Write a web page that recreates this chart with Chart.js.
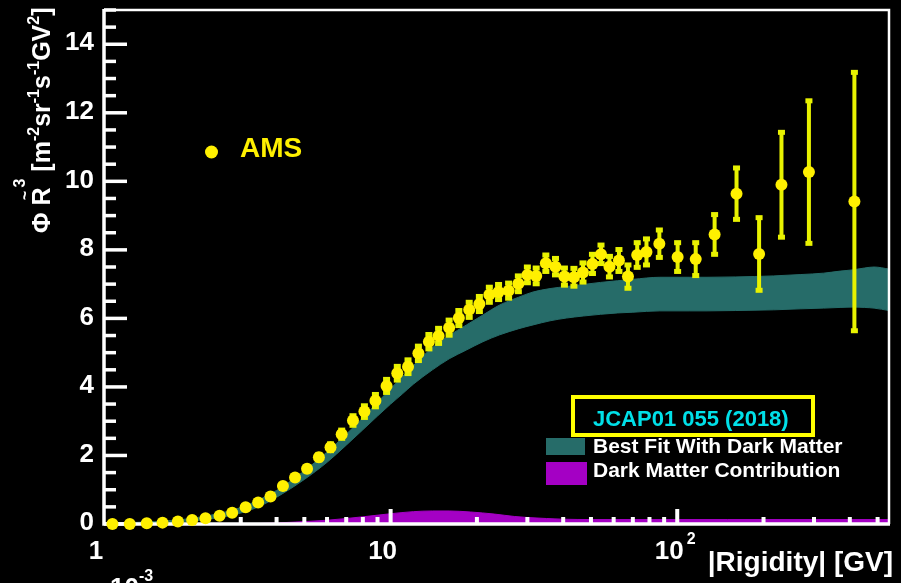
<!DOCTYPE html>
<html>
<head>
<meta charset="utf-8">
<script src="https://cdn.jsdelivr.net/npm/chart.js@4.4.1/dist/chart.umd.min.js"></script>
<style>
  html, body { margin: 0; padding: 0; background: #000; }
  #c { display: block; }
</style>
</head>
<body>
<canvas id="c" width="901" height="583"></canvas>
<script>
// AMS points: rigidity [GV], flux x R^3, error
const amsRigidity = [1.07, 1.23, 1.41, 1.6, 1.81, 2.03, 2.26, 2.53, 2.8, 3.12, 3.45, 3.81, 4.21, 4.64, 5.11, 5.62, 6.17, 6.75,
  7.39, 8.1, 8.85, 9.68, 10.55, 11.5, 12.5, 13.6, 14.7, 16.0, 17.3, 18.8, 20.4, 22.1, 23.8, 25.8, 27.9, 30.0,
  32.2, 34.8, 37.6, 40.4, 43.6, 46.9, 50.6, 54.2, 58.0, 62.6, 67.3, 72.5, 78.1, 86.6, 100.3, 116, 135, 161,
  193, 231, 288, 415];
const amsFlux = [0.00, 0.00, 0.02, 0.04, 0.07, 0.12, 0.17, 0.24, 0.33, 0.49, 0.63, 0.80, 1.11, 1.36, 1.61, 1.95, 2.24, 2.62,
  3.02, 3.28, 3.60, 4.03, 4.40, 4.59, 4.98, 5.32, 5.49, 5.73, 6.01, 6.25, 6.42, 6.69, 6.77, 6.81, 7.01, 7.27,
  7.24, 7.61, 7.51, 7.22, 7.20, 7.34, 7.59, 7.87, 7.51, 7.69, 7.22, 7.85, 7.94, 8.18, 7.79, 7.73, 8.45, 9.64,
  7.88, 9.90, 10.27, 9.41];
const amsError = [0.01, 0.01, 0.01, 0.01, 0.01, 0.01, 0.01, 0.01, 0.02, 0.02, 0.03, 0.03, 0.04, 0.05, 0.06, 0.08, 0.1, 0.12,
  0.14, 0.17, 0.18, 0.19, 0.2, 0.2, 0.21, 0.21, 0.22, 0.22, 0.22, 0.22, 0.22, 0.22, 0.22, 0.22, 0.23, 0.23,
  0.23, 0.24, 0.24, 0.25, 0.26, 0.28, 0.28, 0.27, 0.3, 0.32, 0.34, 0.36, 0.38, 0.4, 0.42, 0.48, 0.58, 0.75,
  1.06, 1.53, 2.08, 3.77];

// best fit band (with dark matter)
const fitRigidity = [1, 1.5, 2, 2.5, 3, 3.5, 4, 5, 6, 7, 8, 9, 10, 11, 12, 14, 16, 18.4, 21, 24, 28,
  31.4, 36, 41, 47, 54, 62, 70, 87, 110, 127, 160, 217, 270, 324, 370, 413, 450, 486, 548];
const fitLow = [0, 0.02, 0.08, 0.18, 0.32, 0.52, 0.78, 1.3, 1.8, 2.3, 2.75, 3.15, 3.5, 3.8, 4.08, 4.5, 4.82, 5.08, 5.32, 5.52, 5.7,
  5.81, 5.93, 6.01, 6.07, 6.12, 6.16, 6.18, 6.22, 6.22, 6.22, 6.23, 6.25, 6.28, 6.3, 6.32, 6.33, 6.32, 6.3, 6.23];
const fitHigh = [0.02, 0.07, 0.16, 0.3, 0.48, 0.72, 0.98, 1.55, 2.1, 2.62, 3.1, 3.55, 3.95, 4.3, 4.62, 5.15, 5.5, 5.81, 6.1, 6.39, 6.62,
  6.77, 6.87, 6.93, 6.99, 7.05, 7.1, 7.14, 7.2, 7.2, 7.2, 7.21, 7.24, 7.28, 7.32, 7.38, 7.42, 7.47, 7.5, 7.44];

// dark matter contribution
const dmRigidity = [3, 4, 5, 6, 7, 8, 10, 12, 14, 16, 19, 23, 27, 30, 35, 40, 50, 70, 100, 150, 200, 300, 400, 548];
const dmFlux = [0, 0.03, 0.07, 0.11, 0.16, 0.21, 0.3, 0.36, 0.38, 0.38, 0.35, 0.29, 0.22, 0.19, 0.16, 0.14, 0.13, 0.13,
  0.13, 0.13, 0.13, 0.13, 0.13, 0.13];

// axis ticks
const yMajorTicks = [0, 2, 4, 6, 8, 10, 12, 14];
const xMajorTicks = [1, 10, 100];
const xTickLabels = ['1', '10', '10'];
const xTickSups = ['', '', '2'];

const FONT = "'Liberation Sans', Arial, Helvetica, sans-serif";
const YELLOW = '#fff000';
const BAR_YELLOW = '#e8f200';
const TEAL = '#266c69';
const MAGENTA = '#a400c4';

const toXY = (xs, ys) => xs.map((x, i) => ({ x: x, y: ys[i] }));

function drawFrameAndTicks(chart) {
  const ctx = chart.ctx;
  const a = chart.chartArea;
  const xs = chart.scales.x, ys = chart.scales.y;
  ctx.save();
  ctx.strokeStyle = '#ffffff';
  ctx.lineCap = 'butt';
  // top + right (thin)
  ctx.lineWidth = 2.5;
  ctx.beginPath();
  ctx.moveTo(a.left, a.top); ctx.lineTo(a.right, a.top); ctx.lineTo(a.right, a.bottom);
  ctx.stroke();
  // left + bottom axis
  ctx.lineWidth = 3.5;
  ctx.beginPath();
  ctx.moveTo(a.left, a.top - 1); ctx.lineTo(a.left, a.bottom); ctx.lineTo(a.right + 1, a.bottom);
  ctx.stroke();

  // y ticks (inside)
  ctx.lineWidth = 3.5;
  for (let v = 0; v <= 15.001; v += 0.5) {
    const major = Math.abs(v / 2 - Math.round(v / 2)) < 1e-6;
    const py = ys.getPixelForValue(v);
    ctx.beginPath();
    ctx.moveTo(a.left, py);
    ctx.lineTo(a.left + (major ? 23 : 12), py);
    ctx.stroke();
  }
  // x ticks (inside)
  ctx.lineWidth = 4;
  for (let d = 1; d <= 100; d *= 10) {
    for (let m = 1; m <= 9; m++) {
      const val = m * d;
      if (val <= 1 || val > xs.max) continue;
      const px = xs.getPixelForValue(val);
      ctx.beginPath();
      ctx.moveTo(px, a.bottom);
      ctx.lineTo(px, a.bottom - (m === 1 ? 15 : 7));
      ctx.stroke();
    }
  }
  ctx.restore();
}

function drawErrorBars(chart) {
  const ctx = chart.ctx;
  const xs = chart.scales.x, ys = chart.scales.y;
  ctx.save();
  ctx.strokeStyle = BAR_YELLOW;
  ctx.fillStyle = BAR_YELLOW;
  ctx.lineWidth = 4;
  amsRigidity.forEach((r, i) => {
    const px = xs.getPixelForValue(r);
    const top = ys.getPixelForValue(amsFlux[i] + amsError[i]);
    const bot = ys.getPixelForValue(amsFlux[i] - amsError[i]);
    if (bot - top < 4) return;
    ctx.beginPath();
    ctx.moveTo(px, top); ctx.lineTo(px, bot);
    ctx.stroke();
    ctx.fillRect(px - 3.5, top - 2.5, 7, 5);
    ctx.fillRect(px - 3.5, bot - 2.5, 7, 5);
  });
  ctx.restore();
}

function drawTexts(chart) {
  const ctx = chart.ctx;
  const xs = chart.scales.x, ys = chart.scales.y;
  ctx.save();
  ctx.fillStyle = '#ffffff';

  // y tick labels
  ctx.font = 'bold 26px ' + FONT;
  ctx.textAlign = 'right';
  ctx.textBaseline = 'middle';
  yMajorTicks.forEach(v => ctx.fillText(String(v), 94, ys.getPixelForValue(v) - 1));

  // x tick labels
  ctx.textAlign = 'center';
  ctx.textBaseline = 'top';
  xMajorTicks.forEach((v, i) => {
    const px = xs.getPixelForValue(v) - 8;
    ctx.font = 'bold 26px ' + FONT;
    ctx.fillText(xTickLabels[i], px, 539);
    if (xTickSups[i]) {
      const w = ctx.measureText(xTickLabels[i]).width;
      ctx.font = 'bold 16px ' + FONT;
      ctx.textAlign = 'left';
      ctx.fillText(xTickSups[i], px + w / 2 + 3, 532);
      ctx.textAlign = 'center';
    }
  });

  // x title
  ctx.font = 'bold 28px ' + FONT;
  ctx.textAlign = 'right';
  ctx.textBaseline = 'alphabetic';
  ctx.fillText('|Rigidity| [GV]', 893, 571);

  // leftover exponent label from the panel below
  ctx.textAlign = 'left';
  ctx.textBaseline = 'top';
  ctx.font = 'bold 26px ' + FONT;
  ctx.fillText('10', 110, 576);
  ctx.font = 'bold 16px ' + FONT;
  ctx.fillText('-3', 139, 569);

  // y title (rotated)
  ctx.save();
  ctx.translate(50, 233);
  ctx.rotate(-Math.PI / 2);
  ctx.textAlign = 'left';
  ctx.textBaseline = 'alphabetic';
  const big = 'bold 25px ' + FONT, small = 'bold 16px ' + FONT;
  let cx = 0;
  const put = (t, f, dy) => { ctx.font = f; ctx.fillText(t, cx, dy); cx += ctx.measureText(t).width; };
  put('\u03A6', big, 0);
  put(' ', big, 0);
  const rStart = cx;
  put('R', big, 0);
  const rEnd = cx;
  ctx.font = small;
  ctx.textAlign = 'center';
  ctx.fillText('~', (rStart + rEnd) / 2 + 1, -20);
  ctx.textAlign = 'left';
  put('3', small, -25);
  put(' [m', big, 0);
  put('-2', small, -11);
  put('sr', big, 0);
  put('-1', small, -11);
  put('s', big, 0);
  put('-1', small, -11);
  put('GV', big, 0);
  put('2', small, -11);
  put(']', big, 0);
  ctx.restore();

  // AMS legend
  ctx.fillStyle = YELLOW;
  ctx.beginPath();
  ctx.arc(211.5, 152, 6.5, 0, Math.PI * 2);
  ctx.fill();
  ctx.font = 'bold 28px ' + FONT;
  ctx.textAlign = 'left';
  ctx.textBaseline = 'alphabetic';
  ctx.fillText('AMS', 240, 157);

  // model legend
  ctx.fillStyle = TEAL;
  ctx.fillRect(546, 438, 39, 17);
  ctx.fillStyle = MAGENTA;
  ctx.fillRect(546, 462, 41, 23);
  ctx.fillStyle = '#ffffff';
  ctx.font = 'bold 21px ' + FONT;
  ctx.fillText('Best Fit With Dark Matter', 593, 453);
  ctx.fillText('Dark Matter Contribution', 593, 477);

  // reference box
  ctx.fillStyle = '#000000';
  ctx.fillRect(573, 397, 240, 38);
  ctx.strokeStyle = '#ffff00';
  ctx.lineWidth = 4;
  ctx.strokeRect(573, 397, 240, 38);
  ctx.fillStyle = '#00e0e8';
  ctx.font = 'bold 22px ' + FONT;
  ctx.fillText('JCAP01 055 (2018)', 593, 426);

  ctx.restore();
}

const canvasPlugin = {
  id: 'rootStyle',
  beforeDraw(chart) {
    const ctx = chart.ctx;
    ctx.save();
    ctx.fillStyle = '#000000';
    ctx.fillRect(0, 0, chart.width, chart.height);
    ctx.restore();
  },
  beforeDatasetDraw(chart, args) {
    if (args.index === 3) {
      drawFrameAndTicks(chart);
      drawErrorBars(chart);
    }
  },
  afterDraw(chart) {
    drawTexts(chart);
  }
};

new Chart(document.getElementById('c'), {
  type: 'line',
  data: {
    datasets: [
      {
        label: 'fit high',
        data: toXY(fitRigidity, fitHigh),
        borderColor: TEAL,
        borderWidth: 1,
        backgroundColor: TEAL,
        pointRadius: 0,
        cubicInterpolationMode: 'monotone',
        fill: '+1',
        order: 2
      },
      {
        label: 'fit low',
        data: toXY(fitRigidity, fitLow),
        borderColor: TEAL,
        borderWidth: 1,
        pointRadius: 0,
        cubicInterpolationMode: 'monotone',
        fill: false,
        order: 2
      },
      {
        label: 'Dark Matter Contribution',
        data: toXY(dmRigidity, dmFlux),
        borderColor: MAGENTA,
        borderWidth: 1,
        backgroundColor: MAGENTA,
        pointRadius: 0,
        cubicInterpolationMode: 'monotone',
        fill: 'origin',
        order: 1
      },
      {
        type: 'scatter',
        label: 'AMS',
        data: toXY(amsRigidity, amsFlux),
        backgroundColor: YELLOW,
        borderWidth: 0,
        pointRadius: 6,
        showLine: false,
        clip: false,
        order: 0
      }
    ]
  },
  options: {
    responsive: false,
    animation: false,
    devicePixelRatio: 1,
    layout: { padding: { left: 104, right: 12, top: 10, bottom: 59 } },
    plugins: { legend: { display: false }, tooltip: { enabled: false } },
    scales: {
      x: { type: 'logarithmic', min: 1, max: 548, display: false },
      y: { type: 'linear', min: 0, max: 15, display: false }
    }
  },
  plugins: [canvasPlugin]
});
</script>
</body>
</html>
